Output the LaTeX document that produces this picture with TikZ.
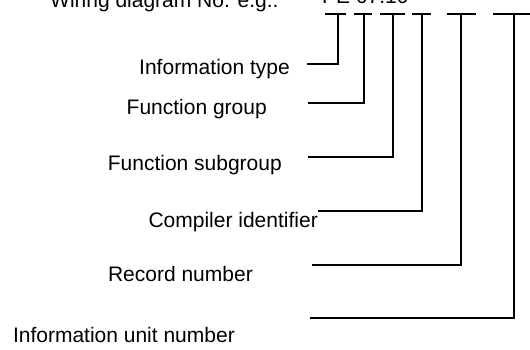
\documentclass[tikz,border=0pt]{standalone}
\usepackage{fontspec}
\setmainfont{Liberation Sans}
\usetikzlibrary{positioning}

\begin{document}
\begin{tikzpicture}
                [x=1pt, y=-1pt,
                 every node/.style={font=\fontsize{21}{25}\selectfont, inner sep=0pt, anchor=base east},
                 lead/.style={line width=1.6pt}]
                \useasboundingbox (0,0) rectangle (530,349);
                \node (title) [anchor=base west] at (50,7) {Wiring diagram No. e.g..};
                \node (code) [anchor=base west] at (322,3) {PE 07.10};
                \node (type) at (290,74) {Information type};
                \node (group) at (267,114) {Function group};
                \node (subgroup) at (282,170) {Function subgroup};
                \node (compiler) at (318,227) {Compiler identifier};
                \node (record) at (253,281) {Record number};
                \node (unit) at (235,342) {Information unit number};
                \coordinate (t1) at (338,14);
                \coordinate (t2) at (364,14);
                \coordinate (t3) at (393,14);
                \coordinate (t4) at (422,14);
                \coordinate (t5) at (461,14);
                \coordinate (t6) at (514,14);
                \coordinate (e1) at (307,64);
                \coordinate (e2) at (308,103);
                \coordinate (e3) at (308,157);
                \coordinate (e4) at (318,211);
                \coordinate (e5) at (312,265);
                \coordinate (e6) at (310,318);
                \draw [lead] (325,14) -- (346,14);
                \draw [lead] (354,14) -- (372,14);
                \draw [lead] (380,14) -- (405,14);
                \draw [lead] (412,14) -- (431,14);
                \draw [lead] (447,14) -- (476,14);
                \draw [lead] (493,14) -- (530,14);
                \draw [lead] (e1) -| (t1);
                \draw [lead] (e2) -| (t2);
                \draw [lead] (e3) -| (t3);
                \draw [lead] (e4) -| (t4);
                \draw [lead] (e5) -| (t5);
                \draw [lead] (e6) -| (t6);
            \end{tikzpicture}
\end{document}
